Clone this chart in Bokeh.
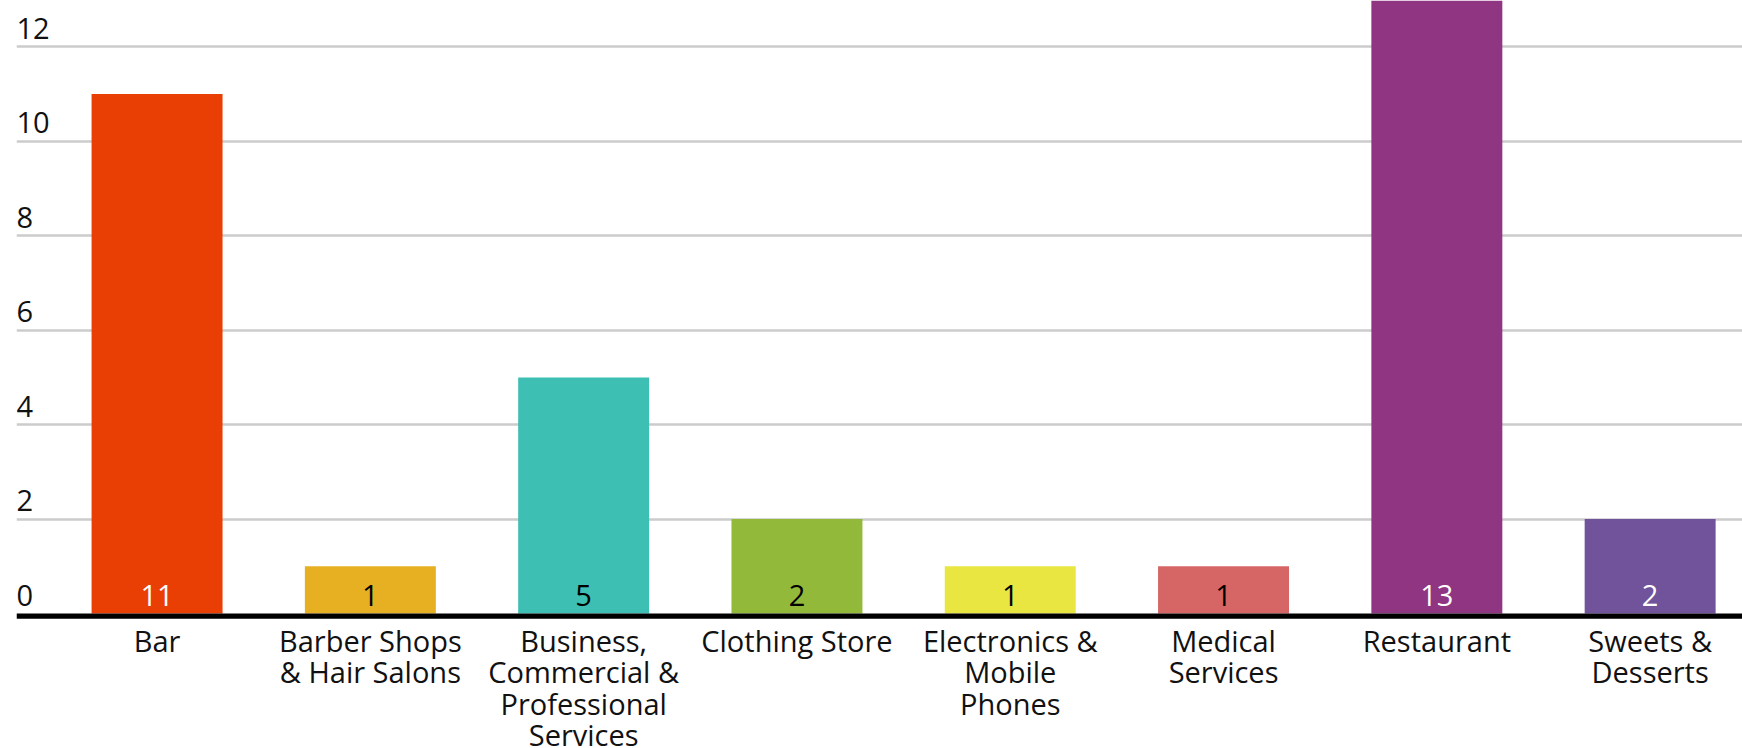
from bokeh.plotting import figure
from bokeh.models import Range1d, FixedTicker, ColumnDataSource
from bokeh.core.properties import value
from bokeh.embed import file_html
from bokeh.resources import INLINE

categories = ["Bar", "Barber Shops\n& Hair Salons", "Business,\nCommercial &\nProfessional\nServices",
              "Clothing Store", "Electronics &\nMobile\nPhones", "Medical\nServices",
              "Restaurant", "Sweets &\nDesserts"]
counts = [11, 1, 5, 2, 1, 1, 13, 2]
bar_colors = ["#e93e04", "#e6b022", "#3dbfb3", "#93b93a", "#e9e642", "#d66666", "#8f3581", "#70539b"]
label_colors = ["white", "black", "black", "black", "black", "black", "white", "white"]
y_ticks = [0, 2, 4, 6, 8, 10, 12]

FONT = "Open Sans"
FS = "29px"
X0, X1 = -0.159, 7.933

xs = [i + 0.5 for i in range(len(categories))]
src = ColumnDataSource(dict(x=xs, top=counts, color=bar_colors, lc=label_colors,
                            lab=[str(c) for c in counts], cat=categories))

p = figure(width=1742, height=748, output_backend="svg", toolbar_location=None,
           x_range=Range1d(X0, X1), y_range=Range1d(-2.858, 12.98),
           min_border_left=16, min_border_right=0, min_border_top=0, min_border_bottom=0)
p.axis.visible = False
p.xgrid.visible = False
p.ygrid.ticker = FixedTicker(ticks=[t for t in y_ticks if t > 0])
p.ygrid.grid_line_color = "#cccccc"
p.ygrid.grid_line_width = 2.7
p.outline_line_color = None
p.background_fill_color = "white"
p.border_fill_color = "white"

p.vbar(x="x", top="top", bottom=0, width=0.614, fill_color="color", line_color=None, source=src)

# baseline axis line
p.segment(x0=X0, y0=-0.057, x1=X1, y1=-0.057, line_color="black", line_width=5.3)

# value labels
p.text(x="x", y=0, text="lab", text_color="lc", text_font=value(FONT), text_font_size=FS,
       text_align="center", text_baseline="top", y_offset=-29, source=src)

# category labels
p.text(x="x", y=0, text="cat", text_color="#111111", text_font=value(FONT), text_font_size=FS,
       text_align="center", text_baseline="top", y_offset=7, text_line_height=0.81, source=src)

# y tick labels
p.text(x=[X0] * len(y_ticks), y=y_ticks, text=[str(t) for t in y_ticks], text_color="#111111",
       text_font=value(FONT), text_font_size=FS, text_align="left", text_baseline="top",
       y_offset=-29)

open("out.html", "w").write(file_html(p, INLINE))
